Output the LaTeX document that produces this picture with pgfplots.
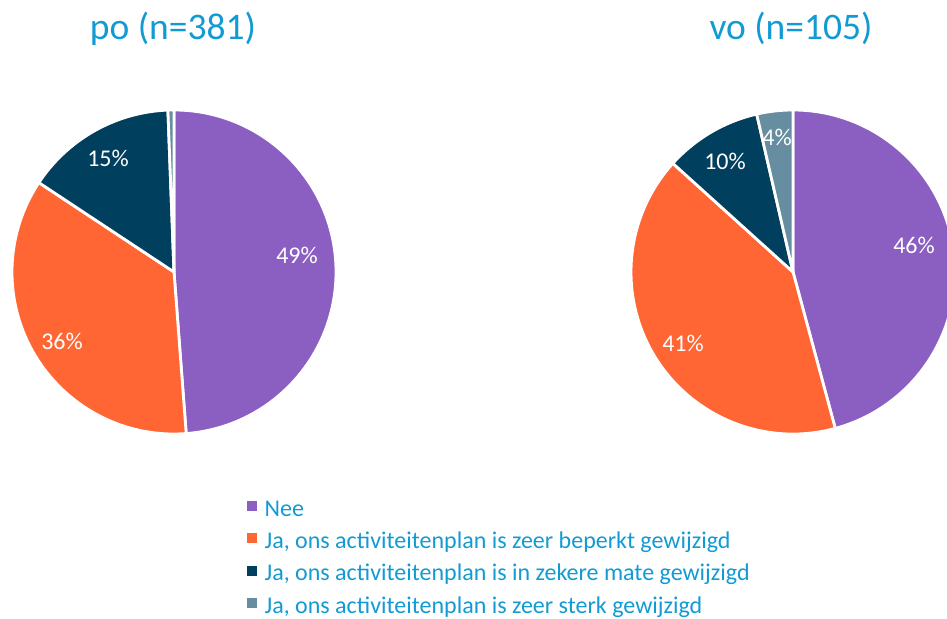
\documentclass[border=0pt]{standalone}
\usepackage{pgfplots}
\usepackage{pgfplotstable}
\pgfplotsset{compat=1.18}
\usepackage{fontspec}
\setmainfont{Carlito}
\definecolor{cNee}{HTML}{8B5FC1}
\definecolor{cBep}{HTML}{FF6633}
\definecolor{cZek}{HTML}{003F5E}
\definecolor{cSte}{HTML}{678DA1}
\definecolor{tblue}{HTML}{129BD3}

% share per answer (percent), slice colour, label position (axis units), label
\pgfplotstableread{
pct  col  lx  ly  lab
48.8 cNee 297 363 49
35.5 cBep 62  277 36
15.1 cZek 108 460 15
0.6  cSte 0   0   0
}\po
\pgfplotstableread{
pct  col  lx  ly  lab
45.8 cNee 914 373 46
40.9 cBep 683 275 41
9.7  cZek 725 457 10
3.6  cSte 777 481 4
}\vo

\newcommand\drawpie[3]{%
  \pgfplotstablegetrowsof{#1}%
  \pgfmathtruncatemacro\nrows{\pgfplotsretval-1}%
  \gdef\angA{90}%
  \foreach \i in {0,...,\nrows}{%
    \pgfplotstablegetelem{\i}{pct}\of{#1}\let\pct\pgfplotsretval
    \pgfplotstablegetelem{\i}{col}\of{#1}\let\col\pgfplotsretval
    \pgfmathsetmacro\angB{\angA-3.6*\pct}%
    \fill[\col,draw=white,line width=2.8pt,line join=round]
      (axis cs:#2,#3) -- ++(\angA:162pt)
      arc[start angle=\angA,end angle=\angB,radius=162pt] -- cycle;
    \xdef\angA{\angB}%
  }%
  \foreach \i in {0,...,\nrows}{%
    \pgfplotstablegetelem{\i}{lab}\of{#1}\let\lab\pgfplotsretval
    \pgfplotstablegetelem{\i}{lx}\of{#1}\let\lx\pgfplotsretval
    \pgfplotstablegetelem{\i}{ly}\of{#1}\let\ly\pgfplotsretval
    \ifnum\lab>0
      \node[text=white,font=\fontsize{24}{27}\selectfont,inner sep=0pt]
        at (axis cs:\lx,\ly) {\lab\%};
    \fi
  }%
}

\begin{document}
\begin{tikzpicture}
\begin{axis}[scale only axis,width=947pt,height=618pt,
  xmin=0,xmax=947,ymin=0,ymax=618,hide axis,clip=true,
  legend cell align=left,
  legend image code/.code={\fill[#1] (0pt,0pt) rectangle (9pt,9pt);},
  legend style={at={(axis cs:247,119)},anchor=north west,draw=none,fill=none,
    inner sep=0pt,text=tblue,font=\fontsize{24}{28}\selectfont,
    nodes={inner sep=0pt,text height=17pt,text depth=5pt},row sep=10.3pt,
    /tikz/every odd column/.append style={column sep=8pt}}]
\pgfplotsextra{\drawpie{\po}{174}{346}\drawpie{\vo}{793}{346}}
\node[text=tblue,font=\fontsize{37.5}{42}\selectfont,anchor=base,inner sep=0pt]
  at (axis cs:173,578) {po (n=381)};
\node[text=tblue,font=\fontsize{37.5}{42}\selectfont,anchor=base,inner sep=0pt]
  at (axis cs:791,578) {vo (n=105)};
\addlegendimage{cNee}
\addlegendentry{Nee}
\addlegendimage{cBep}
\addlegendentry{Ja, ons activiteitenplan is zeer beperkt gewijzigd}
\addlegendimage{cZek}
\addlegendentry{Ja, ons activiteitenplan is in zekere mate gewijzigd}
\addlegendimage{cSte}
\addlegendentry{Ja, ons activiteitenplan is zeer sterk gewijzigd}
\end{axis}
\pgfresetboundingbox
\useasboundingbox (0,0) rectangle (947pt,618pt);
\end{tikzpicture}
\end{document}
